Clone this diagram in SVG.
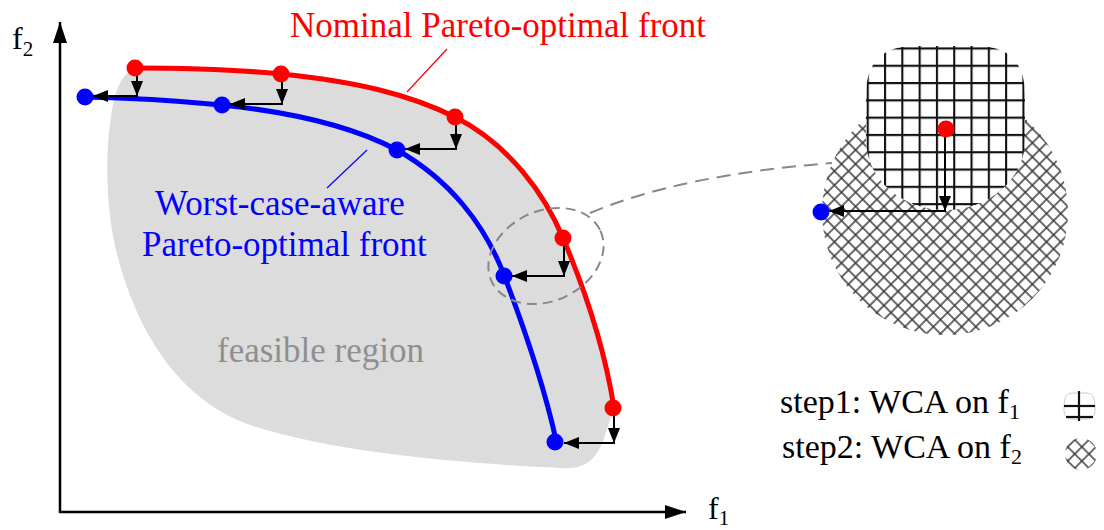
<svg xmlns="http://www.w3.org/2000/svg" width="1104" height="530" viewBox="0 0 1104 530">
<style>
.lbl{font-family:"Liberation Serif","Times New Roman",serif;}
.ax{stroke:#000;stroke-width:2.5;fill:none;}
.arr{stroke:#000;stroke-width:2;fill:none;marker-end:url(#ah);}
.rd{fill:#ff0000;}
.bd{fill:#0000ff;}
</style>
<defs>
<marker id="ah" markerUnits="userSpaceOnUse" markerWidth="15" markerHeight="12" refX="15" refY="6" orient="auto">
<path d="M0,0 L15,6 L0,12 Z" fill="#000"/>
</marker>
<marker id="axh" markerUnits="userSpaceOnUse" markerWidth="21" markerHeight="14" refX="21" refY="7" orient="auto">
<path d="M0,0 L21,7 L0,14 Z" fill="#000"/>
</marker>
<pattern id="grid" patternUnits="userSpaceOnUse" x="884" y="82" width="17.3" height="17.3">
<path d="M1,0 V17.3 M0,1 H17.3" stroke="#111" stroke-width="2.2" fill="none"/>
</pattern>
<pattern id="xh" patternUnits="userSpaceOnUse" width="10" height="10" patternTransform="rotate(45)">
<path d="M1,0 V10 M0,1 H10" stroke="#3a3a3a" stroke-width="1.5" fill="none"/>
</pattern>
</defs>
<rect width="1104" height="530" fill="#fff"/>

<g id="feasible-region">
<path d="M135,68 C200,68 240,70 281,74 C360,82 410,95 455,117 C510,145 545,195 563,238 C585,290 605,350 614,408 L606,432 C598,458 588,470 560,468 C480,464 340,455 250,425 C180,400 140,335 120,265 C105,215 104,150 113,105 C117,85 124,72 135,68 Z" fill="#dcdcdc"/>
<text class="lbl" x="217" y="362" font-size="35" fill="#8f8f8f">feasible region</text>
</g>

<g id="axes">
<line class="ax" x1="60" y1="513" x2="60" y2="22" marker-end="url(#axh)"/>
<line class="ax" x1="59" y1="512" x2="686" y2="512" marker-end="url(#axh)"/>
<text class="lbl" x="12" y="49" font-size="32">f<tspan font-size="21" dy="7">2</tspan></text>
<text class="lbl" x="708" y="519" font-size="32">f<tspan font-size="21" dy="6">1</tspan></text>
</g>

<g id="nominal-front">
<path d="M135,68 C200,68 240,70 281,74 C360,82 410,95 455,117 C510,145 545,195 563,238 C585,290 605,350 614,408" fill="none" stroke="#ff0000" stroke-width="5"/>
<text class="lbl" x="290" y="37" font-size="35" fill="#ff0000">Nominal Pareto-optimal front</text>
<line x1="447" y1="49" x2="407" y2="92" stroke="#ff0000" stroke-width="1.2"/>
</g>

<g id="wca-front">
<path d="M85,97 C140,98 180,101 222,105 C290,112 350,125 397,150 C450,180 485,225 504,275 C525,330 545,390 556,440" fill="none" stroke="#0000ff" stroke-width="5"/>
<text class="lbl" x="155" y="215" font-size="35" fill="#0000ff">Worst-case-aware</text>
<text class="lbl" x="142" y="256" font-size="35" fill="#0000ff">Pareto-optimal front</text>
<line x1="367" y1="150" x2="327" y2="188" stroke="#0000ff" stroke-width="1.2"/>
</g>

<g id="connectors">
<line class="arr" x1="137" y1="70" x2="137" y2="96"/>
<line class="arr" x1="138" y1="96" x2="93" y2="96"/>
<line class="arr" x1="282" y1="76" x2="282" y2="104"/>
<line class="arr" x1="283" y1="104" x2="230" y2="104"/>
<line class="arr" x1="456" y1="119" x2="456" y2="149"/>
<line class="arr" x1="457" y1="149" x2="405" y2="149"/>
<line class="arr" x1="564" y1="240" x2="564" y2="276"/>
<line class="arr" x1="565" y1="276" x2="512" y2="276"/>
<line class="arr" x1="614" y1="410" x2="614" y2="443"/>
<line class="arr" x1="615" y1="443" x2="564" y2="443"/>
<ellipse cx="546" cy="256" rx="60" ry="45" transform="rotate(-25 546 256)" fill="none" stroke="#888" stroke-width="2" stroke-dasharray="10 6"/>
<path d="M590,213 Q680,175 832,163" fill="none" stroke="#888" stroke-width="2" stroke-dasharray="14 8"/>
</g>

<g id="points">
<circle class="rd" cx="135" cy="68" r="8.5"/>
<circle class="rd" cx="281" cy="74" r="8.5"/>
<circle class="rd" cx="455" cy="117" r="8.5"/>
<circle class="rd" cx="563" cy="238" r="8.5"/>
<circle class="rd" cx="613" cy="408" r="8.5"/>
<circle class="bd" cx="85" cy="97" r="8.5"/>
<circle class="bd" cx="222" cy="105" r="8.5"/>
<circle class="bd" cx="397" cy="150" r="8.5"/>
<circle class="bd" cx="504" cy="276" r="8.5"/>
<circle class="bd" cx="555" cy="442" r="8.5"/>
</g>

<g id="inset">
<circle cx="945" cy="212" r="123" fill="url(#xh)"/>
<path d="M866,95 Q866,46 915,46 L977,46 Q1025,46 1025,95 L1025,140 A79.5,70 0 0 1 866,140 Z" fill="#fff"/>
<path d="M866,95 Q866,46 915,46 L977,46 Q1025,46 1025,95 L1025,140 A79.5,70 0 0 1 866,140 Z" fill="url(#grid)"/>
<line class="arr" x1="945" y1="131" x2="945" y2="211"/>
<line class="arr" x1="946" y1="211" x2="829" y2="211"/>
<circle class="rd" cx="946" cy="129" r="8.5"/>
<circle class="bd" cx="821" cy="212" r="8.5"/>
</g>

<g id="legend">
<text class="lbl" x="780" y="413" font-size="34">step1: WCA on f<tspan font-size="22" dy="6">1</tspan></text>
<text class="lbl" x="782" y="458" font-size="34">step2: WCA on f<tspan font-size="22" dy="6">2</tspan></text>
<g id="legend-grid">
<path d="M1064,406 Q1064,393 1072,393 L1087,393 Q1095,393 1095,406 L1095,410 Q1095,419 1087,419 L1072,419 Q1064,419 1064,410 Z" fill="none" stroke="#ccc" stroke-width="1"/>
<g stroke="#111" stroke-width="2.2">
<line x1="1079" y1="391" x2="1079" y2="421"/>
<line x1="1064" y1="406" x2="1095" y2="406"/>
<line x1="1066" y1="417" x2="1093" y2="417"/>
</g>
</g>
<circle id="legend-xh" cx="1081" cy="454" r="16" fill="url(#xh)"/>
</g>
</svg>
